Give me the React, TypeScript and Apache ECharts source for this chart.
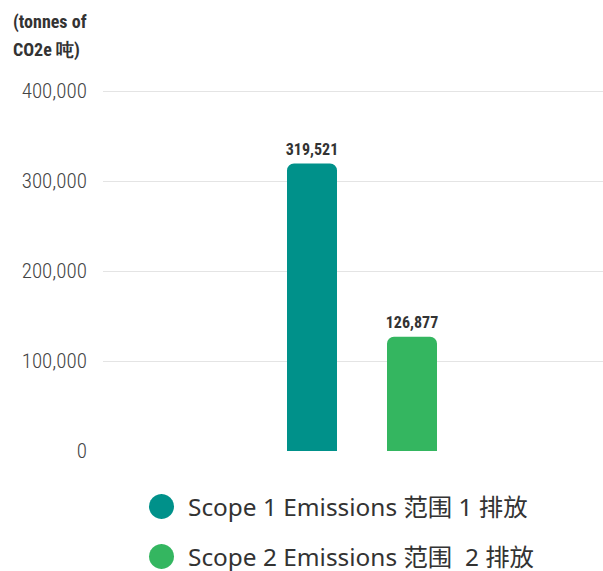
import React, { useEffect, useRef } from "react";
import * as echarts from "echarts";

const category = ["Emissions"];
const seriesNames = ["Scope 1 Emissions 范围 1 排放", "Scope 2 Emissions 范围  2 排放"];
const seriesValues = [319521, 126877];
const seriesColors = ["#00918A", "#34B660"];
const yTicks = [0, 100000, 200000, 300000, 400000];

const NARROW = "'Roboto Condensed', sans-serif";
const GRID = "#e4e4e4";

export default function App() {
  const ref = useRef<HTMLDivElement>(null);
  useEffect(() => {
    const chart = echarts.init(ref.current!, null, { renderer: "svg" });
    chart.setOption({
      animation: false,
      grid: { left: 103, width: 518, top: 91, height: 360, containLabel: false, outerBoundsMode: "none" },
      xAxis: {
        type: "category",
        data: category,
        axisLine: { show: false },
        axisTick: { show: false },
        axisLabel: { show: false },
      },
      yAxis: {
        type: "value",
        min: yTicks[0],
        max: yTicks[yTicks.length - 1],
        interval: 100000,
        axisLine: { show: false },
        axisTick: { show: false },
        splitLine: { lineStyle: { color: yTicks.map((t) => (t === 0 ? "rgba(0,0,0,0)" : GRID)), width: 1 } },
        axisLabel: {
          margin: 16,
          fontFamily: NARROW,
          fontWeight: 300,
          fontSize: 21,
          color: "#444",
          formatter: (v: number) => v.toLocaleString("en-US"),
        },
      },
      legend: {
        orient: "vertical",
        left: 149,
        top: 494,
        padding: 0,
        icon: "circle",
        itemWidth: 25,
        itemHeight: 25,
        itemGap: 25,
        textStyle: {
          fontFamily: "'Noto Sans', 'Noto Sans CJK SC', sans-serif",
          fontSize: 24.4,
          lineHeight: 24,
          color: "#333",
          padding: [0, 0, 0, 9],
        },
        data: seriesNames,
      },
      graphic: [
        {
          type: "text",
          left: 13,
          top: 7,
          style: {
            text: "(tonnes of\nCO2e 吨)",
            font: `bold 18px ${NARROW}`,
            fill: "#333",
            lineHeight: 28,
          },
        },
      ],
      series: seriesNames.map((name, i) => ({
        name,
        type: "bar",
        barWidth: 50,
        barGap: "100%",
        data: [seriesValues[i]],
        itemStyle: { color: seriesColors[i], borderRadius: [7, 7, 0, 0] },
        label: {
          show: true,
          position: "top",
          distance: 6,
          fontFamily: NARROW,
          fontWeight: "bold",
          fontSize: 16,
          color: "#333",
          formatter: (p: any) => Number(p.value).toLocaleString("en-US"),
        },
      })),
    });
    return () => chart.dispose();
  }, []);
  return <div ref={ref} style={{ width: 603, height: 571, position: "absolute", left: 0, top: 0 }} />;
}
